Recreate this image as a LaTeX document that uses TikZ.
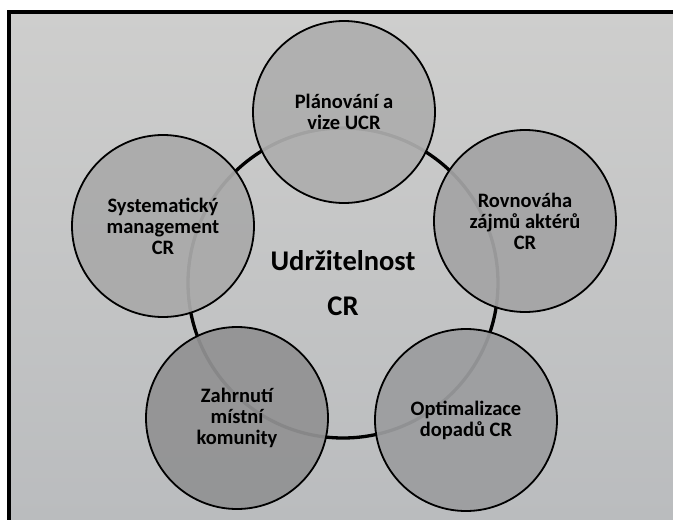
\documentclass[tikz,border=0pt]{standalone}
\usepackage{fontspec}
\setmainfont{Carlito}
\definecolor{paperTop}{RGB}{206,206,205}
\definecolor{paperBot}{RGB}{186,188,190}
\definecolor{planGray}{RGB}{174,174,174}
\definecolor{sysGray}{RGB}{170,170,170}
\definecolor{rovGray}{RGB}{164,164,165}
\definecolor{zahrGray}{RGB}{146,146,147}
\definecolor{optGray}{RGB}{156,157,159}
\tikzset{hub/.style={circle,draw,line width=3.3pt,minimum size=310pt,inner sep=0pt,align=center,font=\bfseries\fontsize{28.5}{45}\selectfont}}
\tikzset{topic/.style={circle,draw,line width=1.8pt,fill=#1,fill opacity=.93,text opacity=1,minimum size=182pt,inner sep=0pt,align=center,font=\bfseries\fontsize{20.5}{21}\selectfont}}

\begin{document}
\begin{tikzpicture}[x=1pt,y=-1pt]
    \useasboundingbox (0,0) rectangle (673,520);
    \fill[white] (0,0) rectangle (673,520);
    \shade[top color=paperTop,bottom color=paperBot] (9,12) rectangle (673,520);
    \draw[line width=4pt] (9,520) -- (9,12) -- (673,12);
    \node[hub] (U) at (343,283) {Udržitelnost\\CR};
    \node[topic=planGray] (P) at (344,112) {Plánování a\\vize UCR};
    \node[topic=sysGray] (S) at (163,226) {Systematický\\management\\CR};
    \node[topic=rovGray] (R) at (525,221) {Rovnováha\\zájmů aktérů\\CR};
    \node[topic=zahrGray] (Z) at (237,418) {Zahrnutí\\místní\\komunity};
    \node[topic=optGray] (O) at (466,420) {Optimalizace\\dopadů CR};
\end{tikzpicture}
\end{document}
